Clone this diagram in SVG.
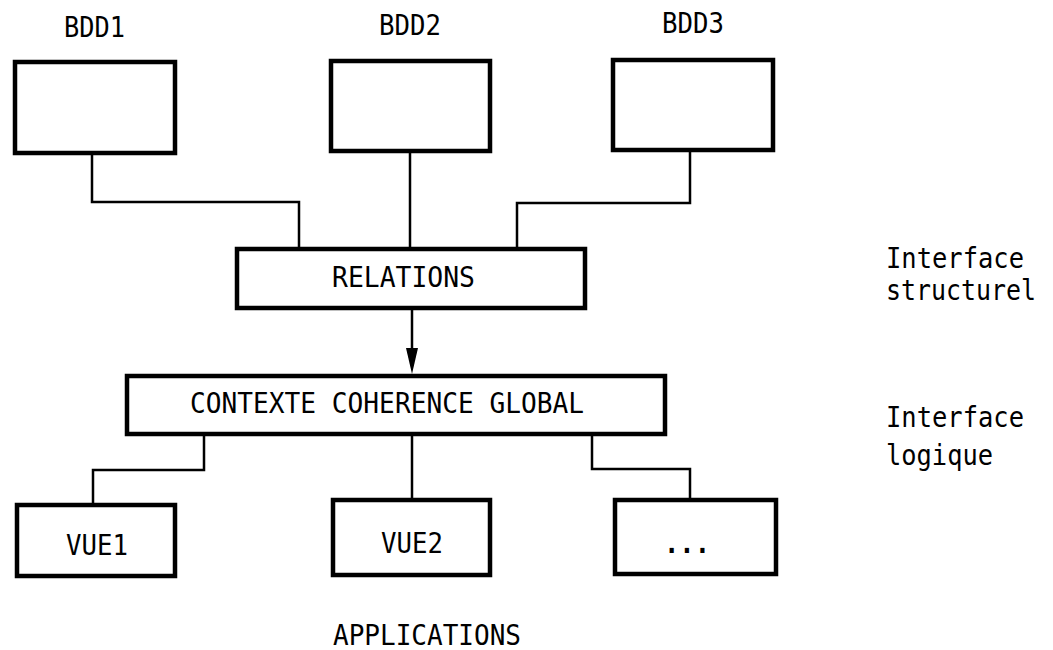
<svg xmlns="http://www.w3.org/2000/svg" width="1053" height="650" viewBox="0 0 1053 650">
<style>
.box{fill:#fff;stroke:#000;stroke-width:4.5}
.t{font-family:"DejaVu Sans Mono","Liberation Mono",monospace;font-size:28px;fill:#000}
.c{stroke:#000;stroke-width:2.5;fill:none}
</style>
<rect width="1053" height="650" fill="#fff"/>
<g id="connectors">
<path class="c" d="M92,155 V202 H299 V247"/>
<path class="c" d="M410,153 V247"/>
<path class="c" d="M690,152 V203 H517 V247"/>
<path class="c" d="M412,310 V352"/>
<polygon points="406,348 418,348 412,374" fill="#000"/>
<path class="c" d="M204,436 V470 H93 V503"/>
<path class="c" d="M412,436 V498"/>
<path class="c" d="M592,436 V469 H690 V498"/>
</g>
<g id="bdd1">
<text class="t" x="64" y="37" textLength="61" lengthAdjust="spacingAndGlyphs">BDD1</text>
<rect class="box" x="15" y="62" width="160" height="91"/>
</g>
<g id="bdd2">
<text class="t" x="379" y="35" textLength="62" lengthAdjust="spacingAndGlyphs">BDD2</text>
<rect class="box" x="331" y="61" width="159" height="90"/>
</g>
<g id="bdd3">
<text class="t" x="662" y="33" textLength="62" lengthAdjust="spacingAndGlyphs">BDD3</text>
<rect class="box" x="613" y="60" width="160" height="90"/>
</g>
<g id="relations">
<rect class="box" x="237" y="249" width="348" height="59"/>
<text class="t" x="332" y="287" textLength="143" lengthAdjust="spacingAndGlyphs">RELATIONS</text>
</g>
<g id="contexte">
<rect class="box" x="127" y="376" width="538" height="58"/>
<text class="t" x="190" y="413" textLength="394" lengthAdjust="spacingAndGlyphs">CONTEXTE COHERENCE GLOBAL</text>
</g>
<g id="vue1">
<rect class="box" x="17" y="505" width="158" height="71"/>
<text class="t" x="66" y="555" textLength="62" lengthAdjust="spacingAndGlyphs">VUE1</text>
</g>
<g id="vue2">
<rect class="box" x="333" y="500" width="157" height="75"/>
<text class="t" x="381" y="553" textLength="62" lengthAdjust="spacingAndGlyphs">VUE2</text>
</g>
<g id="vue3">
<rect class="box" x="615" y="500" width="161" height="74"/>
<text class="t" x="664" y="553" textLength="46" lengthAdjust="spacingAndGlyphs" font-weight="bold">...</text>
</g>
<g id="labels">
<text class="t" x="333" y="645" textLength="188" lengthAdjust="spacingAndGlyphs">APPLICATIONS</text>
<text class="t" x="886" y="268" textLength="138" lengthAdjust="spacingAndGlyphs">Interface</text>
<text class="t" x="886" y="300" textLength="150" lengthAdjust="spacingAndGlyphs">structurel</text>
<text class="t" x="886" y="427" textLength="138" lengthAdjust="spacingAndGlyphs">Interface</text>
<text class="t" x="886" y="465" textLength="107" lengthAdjust="spacingAndGlyphs">logique</text>
</g>
</svg>
